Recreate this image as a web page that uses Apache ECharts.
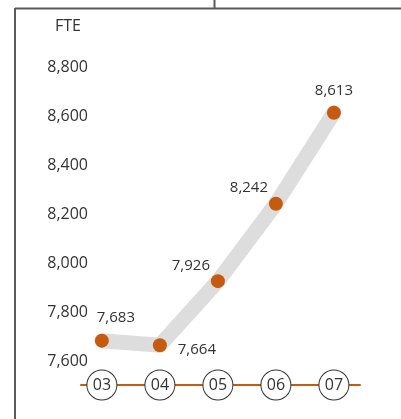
<!DOCTYPE html>
<html>
<head>
<meta charset="utf-8">
<script src="https://cdn.jsdelivr.net/npm/echarts@6/dist/echarts.min.js"></script>
<style>
html,body{margin:0;padding:0;background:#fff;}
#chart{width:401px;height:419px;}
</style>
</head>
<body>
<div id="chart"></div>
<script>
// ---- data ----
const categories = ['03', '04', '05', '06', '07'];
const fteValues = [7683, 7664, 7926, 8242, 8613];
const yTicks = [7600, 7800, 8000, 8200, 8400, 8600, 8800];
const unitLabel = 'FTE';

// ---- label placement (style) ----
const labelOffsets = [[14, -23], [37, 4], [-27, -15], [-27, -16], [0, -22]];

const FONT = '"Open Sans", "Noto Sans", sans-serif';
const ORANGE = '#C55A11';

const points = fteValues.map((v, i) => [i, v]);

const chart = echarts.init(document.getElementById('chart'), null, {renderer: 'canvas'});
chart.setOption({
  animation: false,
  backgroundColor: '#ffffff',
  textStyle: {fontFamily: FONT},
  grid: {left: 81, right: 41, top: 67, bottom: 58, containLabel: false},
  xAxis: {
    type: 'value',
    min: -0.36,
    max: 4.45,
    offset: 24,
    splitLine: {show: false},
    axisTick: {show: false},
    axisLine: {show: true, lineStyle: {color: ORANGE, width: 2}},
    axisLabel: {
      customValues: categories.map((c, i) => i),
      formatter: v => categories[Math.round(v)],
      margin: 0,
      verticalAlign: 'middle',
      align: 'center',
      color: '#333',
      fontSize: 16,
      fontFamily: FONT,
      backgroundColor: '#fff',
      borderColor: '#333',
      borderWidth: 1,
      borderRadius: 15,
      width: 29,
      height: 29,
      lineHeight: 29
    }
  },
  yAxis: {
    type: 'value',
    min: yTicks[0],
    max: yTicks[yTicks.length - 1],
    interval: 200,
    offset: -7,
    splitLine: {show: false},
    axisLine: {show: false},
    axisTick: {show: false},
    axisLabel: {
      margin: 0,
      color: '#333',
      fontSize: 16,
      fontFamily: FONT,
      formatter: v => v.toLocaleString('en-US')
    }
  },
  series: [
    {
      type: 'line',
      data: points,
      smooth: false,
      symbol: 'none',
      lineStyle: {color: '#DDDDDD', width: 15, cap: 'round', join: 'round', opacity: 1},
      z: 1
    },
    {
      type: 'scatter',
      data: points.map((p, i) => ({
        value: p,
        label: {offset: labelOffsets[i]}
      })),
      symbol: 'circle',
      symbolSize: 14,
      itemStyle: {color: ORANGE, opacity: 1},
      label: {
        show: true,
        position: 'inside',
        align: 'center',
        verticalAlign: 'middle',
        color: '#333',
        opacity: 1,
        fontSize: 15,
        fontFamily: FONT,
        formatter: p => p.value[1].toLocaleString('en-US')
      },
      z: 3
    }
  ],
  graphic: [
    {type: 'line', shape: {x1: 15, y1: 8.5, x2: 401, y2: 8.5}, style: {stroke: '#5a5a5a', lineWidth: 2}},
    {type: 'line', shape: {x1: 15, y1: 8, x2: 15, y2: 419}, style: {stroke: '#5a5a5a', lineWidth: 2}},
    {type: 'line', shape: {x1: 214.5, y1: 0, x2: 214.5, y2: 9}, style: {stroke: '#5a5a5a', lineWidth: 2}},
    {type: 'text', left: 55, top: 18, style: {text: unitLabel, fontSize: 16, fontFamily: FONT, fill: '#333'}}
  ]
});
</script>
</body>
</html>
